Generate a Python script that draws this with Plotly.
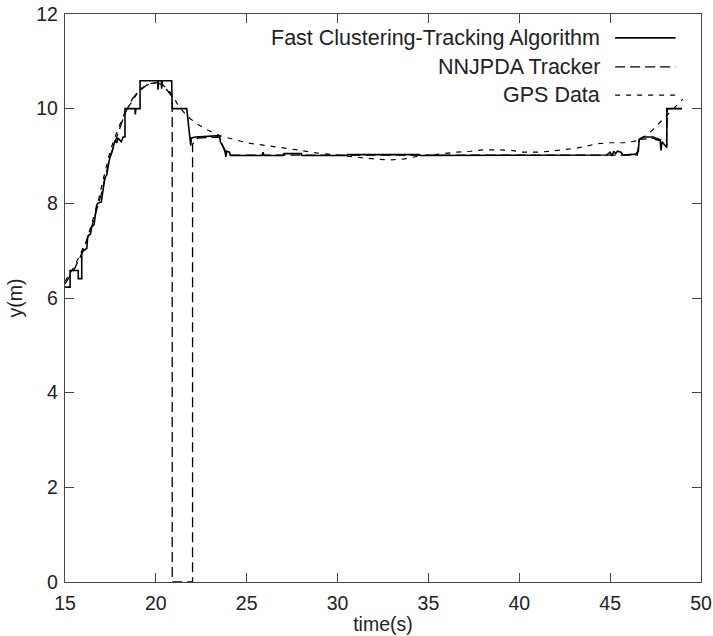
import plotly.graph_objects as go

# Fast Clustering-Tracking Algorithm output (stepwise track)
track_t = [15.0, 15.28, 15.28, 15.73, 15.73, 15.92, 15.92, 16.03, 16.2, 16.25, 16.4, 16.47, 16.6,
           16.74, 16.8, 17.0, 17.05, 17.1, 17.2, 17.3, 17.4, 17.48, 17.6, 17.75, 17.85, 17.9,
           18.03, 18.1, 18.2, 18.3, 18.3, 18.85, 18.87, 18.9, 19.13, 19.13, 20.1, 20.12, 20.15,
           20.3, 20.32, 20.35, 20.87, 20.9, 21.7, 21.9, 21.92, 21.95, 22.2, 23.5, 23.55, 23.8,
           23.85, 23.9, 24.05, 24.1, 25.85, 25.9, 25.95, 27.0, 27.05, 28.0, 28.05, 30.5, 30.55,
           34.5, 34.55, 44.8, 45.0, 45.1, 45.2, 45.3, 45.4, 45.6, 45.7, 46.4, 46.55, 46.6, 46.8,
           47.4, 47.5, 47.75, 47.8, 47.85, 47.95, 48.05, 48.12, 48.12, 48.95]
track_y = [6.23, 6.23, 6.58, 6.58, 6.41, 6.41, 6.97, 7.0, 7.05, 7.3, 7.35, 7.5, 7.55,
           7.96, 8.0, 8.03, 8.2, 8.3, 8.55, 8.6, 8.85, 8.98, 9.1, 9.33, 9.28, 9.38,
           9.33, 9.3, 9.4, 9.4, 10.0, 10.0, 9.88, 10.0, 10.0, 10.59, 10.59, 10.4, 10.59,
           10.59, 10.42, 10.59, 10.59, 10.0, 10.0, 9.4, 9.22, 9.38, 9.4, 9.43, 9.3, 9.12,
           8.98, 9.1, 9.08, 9.01, 9.01, 9.08, 9.01, 9.01, 9.05, 9.05, 9.01, 9.01, 9.03,
           9.03, 9.01, 9.02, 9.08, 9.0, 9.1, 9.05, 9.1, 9.08, 9.02, 9.04, 9.1, 9.35, 9.4,
           9.4, 9.35, 9.33, 9.12, 9.3, 9.25, 9.2, 9.18, 10.0, 10.0]

# NNJPDA tracker estimate (loses the target between ~20.9 s and 22 s)
nnjpda_t = [15.0, 15.5, 16.0, 16.5, 17.0, 17.5, 17.8, 18.3, 18.7, 19.0, 19.5, 20.0, 20.4,
            20.8, 20.9, 20.9, 22.02, 22.02, 22.3, 23.5, 23.8, 24.1, 46.5, 46.6, 47.5, 48.1,
            48.15, 48.95]
nnjpda_y = [6.3, 6.6, 7.0, 7.55, 8.2, 9.0, 9.35, 9.9, 10.2, 10.35, 10.5, 10.55, 10.5,
            10.3, 10.25, 0.0, 0.0, 9.25, 9.38, 9.4, 9.1, 9.02, 9.02, 9.35, 9.38, 9.3,
            10.0, 10.0]

# GPS reference trajectory
gps_t = [15.0, 15.1, 15.55, 16.2, 16.47, 16.8, 17.1, 17.48, 17.75, 18.3, 18.67, 19.13, 19.68,
         20.1, 20.5, 20.87, 21.23, 21.7, 22.25, 22.9, 23.5, 24.26, 25.0, 25.7, 26.5, 27.2,
         27.95, 28.7, 29.4, 30.1, 30.8, 31.5, 32.2, 33.0, 33.7, 34.35, 35.2, 35.8, 36.56,
         37.3, 38.0, 38.76, 39.5, 40.2, 41.0, 41.7, 42.4, 43.2, 44.3, 45.0, 45.9, 46.6,
         47.2, 47.75, 48.3, 48.75, 49.0]
gps_y = [6.35, 6.41, 6.69, 7.22, 7.55, 8.0, 8.5, 9.1, 9.4, 9.93, 10.14, 10.42, 10.53,
         10.55, 10.47, 10.31, 10.07, 9.85, 9.68, 9.54, 9.43, 9.36, 9.28, 9.24, 9.2, 9.16,
         9.12, 9.07, 9.04, 9.01, 8.98, 8.95, 8.93, 8.92, 8.94, 8.99, 9.03, 9.05, 9.08,
         9.1, 9.13, 9.13, 9.12, 9.08, 9.08, 9.1, 9.13, 9.17, 9.26, 9.28, 9.28, 9.33,
         9.5, 9.71, 9.93, 10.1, 10.2]

x_ticks = [15, 20, 25, 30, 35, 40, 45, 50]
y_ticks = [0, 2, 4, 6, 8, 10, 12]

series_names = ["Fast Clustering-Tracking Algorithm", "NNJPDA Tracker", "GPS Data"]
dash_styles = ["solid", "10px,5px", "5px,6px"]
line_widths = [1.6, 1.3, 1.2]

FONT = "Liberation Sans, Arial, Helvetica, sans-serif"

fig = go.Figure()
for name, t, y, dash, w in zip(series_names,
                               [track_t, nnjpda_t, gps_t],
                               [track_y, nnjpda_y, gps_y],
                               dash_styles, line_widths):
    fig.add_trace(go.Scatter(x=t, y=y, mode="lines", name=name,
                             line=dict(color="black", width=w, dash=dash),
                             showlegend=False))

# Legend drawn in gnuplot style: label right-aligned, line sample to its right
legend_rows = [0.958, 0.907, 0.857]
for name, dash, w, ry in zip(series_names, dash_styles, line_widths, legend_rows):
    fig.add_annotation(xref="paper", yref="paper", x=0.845, y=ry, text=name,
                       showarrow=False, xanchor="right", yanchor="middle",
                       font=dict(family=FONT, size=21.5, color="#222"))
    fig.add_shape(type="line", xref="paper", yref="paper",
                  x0=0.865, x1=0.96, y0=ry, y1=ry,
                  line=dict(color="black", width=w, dash=dash))

axis_common = dict(
    showline=True, linecolor="#444", linewidth=1.3, mirror="ticks",
    ticks="inside", ticklen=9, tickwidth=1.2, tickcolor="#444",
    showgrid=False, zeroline=False, automargin=False,
    tickfont=dict(family=FONT, size=19.5, color="#222"),
)

fig.update_xaxes(range=[15, 50], tickvals=x_ticks, ticktext=[str(v) for v in x_ticks],
                 ticklabelstandoff=3,
                 title=dict(text="time(s)", font=dict(family=FONT, size=19.5, color="#222"),
                            standoff=4),
                 **axis_common)
fig.update_yaxes(range=[0, 12], tickvals=y_ticks, ticktext=[str(v) for v in y_ticks],
                 ticklabelstandoff=2,
                 title=dict(text="y(m)", font=dict(family=FONT, size=19.5, color="#222"),
                            standoff=8),
                 **axis_common)

fig.update_layout(
    width=713, height=636,
    margin=dict(l=65, r=12, t=14, b=54),
    paper_bgcolor="white", plot_bgcolor="white",
    font=dict(family=FONT, color="#222"),
)

fig.write_html("out.html")
